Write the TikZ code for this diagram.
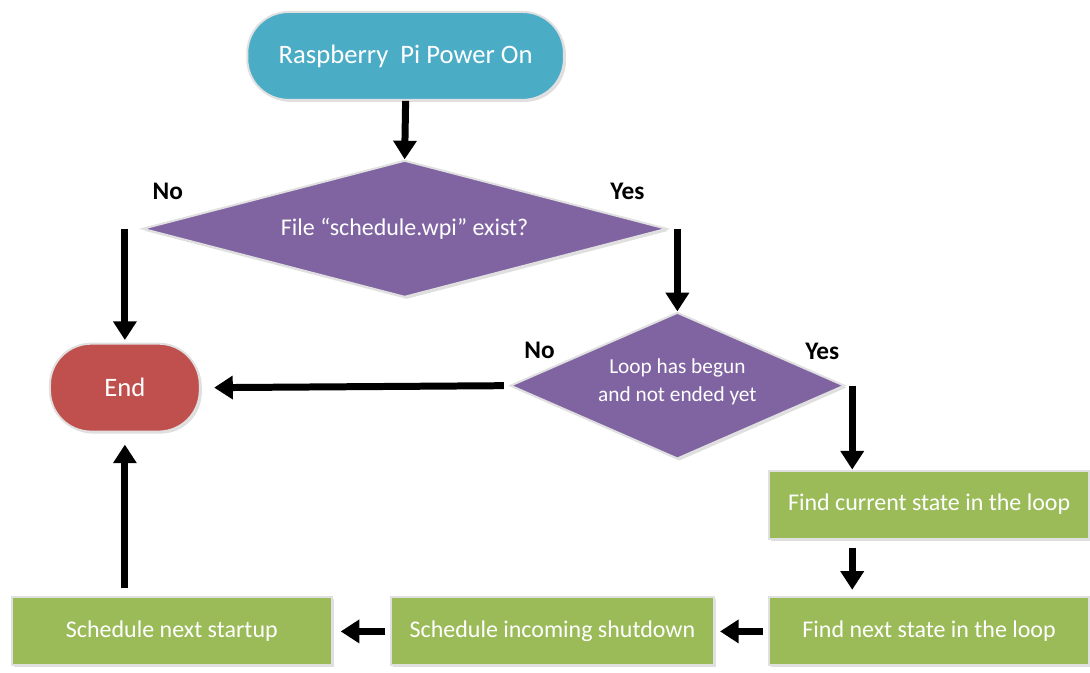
\documentclass[tikz,border=0pt]{standalone}
\usepackage{fontspec}
\setmainfont{Carlito}
\usetikzlibrary{shapes.geometric,arrows.meta,shadows}

\definecolor{termblue}{RGB}{75,172,198}
\definecolor{endred}{RGB}{192,80,77}
\definecolor{askpurple}{RGB}{128,100,162}
\definecolor{stepgreen}{RGB}{155,187,89}

\tikzset{every picture/.style={line width=0.75pt}}
\tikzset{
	bevel/.style={draw=white!88!black, line width=1.5pt, drop shadow={shadow xshift=1.5pt, shadow yshift=-1.5pt, fill=black!25}},
	term/.style={bevel, rounded corners=31pt, text=white, font=\fontsize{20}{24}\selectfont, inner sep=0pt},
	ask/.style={bevel, diamond, fill=askpurple, text=white, inner sep=0pt, align=center},
	stepbox/.style={bevel, rectangle, fill=stepgreen, text=white, font=\fontsize{18}{21}\selectfont, minimum width=240pt, minimum height=51pt, inner sep=0pt},
	flow/.style={line width=5.25pt, -{Triangle[width=17pt,length=14pt]}},
	answer/.style={font=\bfseries\fontsize{19}{22}\selectfont, inner sep=0.75pt}
}

\begin{document}
\begin{tikzpicture}[x=0.75pt,y=0.75pt,yscale=-1,xscale=1]
		\path (0,0) rectangle (1090,673); %page frame
		
		%Terminators
		\node [term, fill=termblue, minimum width=237.75pt, minimum height=66pt] (power) at (406,56) {Raspberry~ Pi Power On};
		\node [term, fill=endred, minimum width=112.5pt, minimum height=66pt] (end) at (125,388) {End};
		
		%Decisions
		\node [ask, aspect=3.83, minimum width=393.75pt, minimum height=102.75pt, font=\fontsize{18}{21}\selectfont] (hasfile) at (405,229) {File “schedule.wpi” exist?};
		\node [ask, aspect=2.28, minimum width=251pt, minimum height=110pt, font=\fontsize{16}{21}\selectfont] (inloop) at (678,386) {Loop has begun\\and not ended yet\\[-12pt]};
		
		%Steps
		\node [stepbox] (curstate) at (930,505) {Find current state in the loop};
		\node [stepbox] (nextstate) at (930,632) {Find next state in the loop};
		\node [stepbox, minimum width=242pt] (shutdown) at (553,632) {Schedule incoming shutdown};
		\node [stepbox] (startup) at (172,632) {Schedule next startup};
		
		%Connectors
		\draw [flow] (power.south) -- (hasfile.north);
		\draw [flow] (end.north |- hasfile.west) -- ([yshift=-2pt]end.north);
		\draw [flow] (inloop.north |- hasfile.east) -- (inloop.north);
		\draw [flow, shorten <=4pt] (inloop.west) -- ([xshift=10pt]end.east);
		\draw [flow] ([xshift=5pt]inloop.east) -- ([xshift=5pt]inloop.east |- curstate.north);
		\draw [flow, shorten <=6pt, shorten >=5pt] ([xshift=5pt]curstate.south -| inloop.east) -- ([xshift=5pt]nextstate.north -| inloop.east);
		\draw [flow, shorten <=4pt, shorten >=4pt] (nextstate.west) -- (shutdown.east);
		\draw [flow, shorten <=4pt, shorten >=6pt] (shutdown.west) -- (startup.east);
		\draw [flow, shorten <=6pt, shorten >=9pt] (end.south |- startup.north) -- (end.south);
		
		%Answers
		\node [answer] (no1) at (168,192) {No};
		\node [answer] (yes1) at (628,192) {Yes};
		\node [answer] (no2) at (540,351) {No};
		\node [answer] (yes2) at (823,352) {Yes};
		
\end{tikzpicture}
\end{document}
